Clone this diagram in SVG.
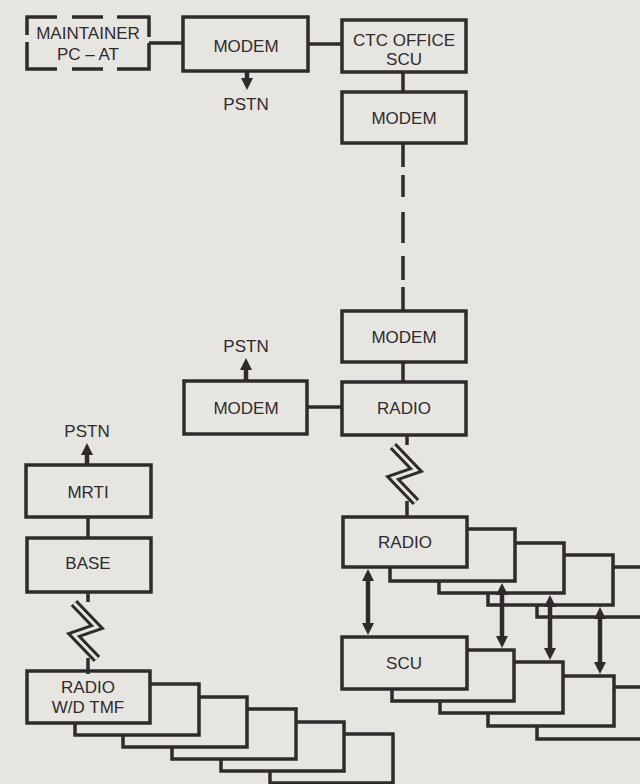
<svg xmlns="http://www.w3.org/2000/svg" width="640" height="784" viewBox="0 0 640 784">
<style>
.bg{fill:#e7e5e1}
.box{fill:#e7e5e1;stroke:#2f2b2b;stroke-width:3.5}
.ln{fill:none;stroke:#2f2b2b;stroke-width:3.5}
.ar{fill:none;stroke:#2f2b2b;stroke-width:4.5}
.t{font-family:"Liberation Sans",Arial,sans-serif;font-size:17px;fill:#2f2b2b;text-anchor:middle}
.bo{fill:none;stroke:#2f2b2b;stroke-width:9;stroke-linejoin:miter;stroke-miterlimit:10}
.bi{fill:none;stroke:#e7e5e1;stroke-width:3;stroke-linejoin:miter;stroke-miterlimit:10}
</style>
<defs>
<marker id="ah" viewBox="0 0 12 12" markerWidth="12" markerHeight="13" refX="6" refY="6" orient="auto-start-reverse" markerUnits="userSpaceOnUse">
<path d="M0,0 L12,6 L0,12 z" fill="#2f2b2b"/>
</marker>
<g id="bolt">
<path class="ln" d="M0,0 V10"/>
<path class="bo" d="M-14,11 L9,35 L-14,43 L9,67"/>
<path class="bi" d="M-14,11 L9,35 L-14,43 L9,67"/>
<path class="ln" d="M0,66 V82"/>
</g>
</defs>
<rect class="bg" x="0" y="0" width="640" height="784"/>

<g id="maintainer">
<path class="ln" d="M27,35 V17 H57 M72,17 H103 M117,17 H149 V37 M149,43 V69 H117 M103,69 H72 M57,69 H27 V42"/>
<text class="t" x="88" y="39">MAINTAINER</text>
<text class="t" x="88" y="60">PC – AT</text>
</g>
<g id="modem1">
<rect class="box" x="183" y="17" width="125" height="54"/>
<text class="t" x="246" y="52">MODEM</text>
</g>
<text class="t" id="pstn1" x="246" y="110">PSTN</text>
<g id="ctc">
<rect class="box" x="342" y="20" width="124" height="52"/>
<text class="t" x="404" y="46">CTC OFFICE</text>
<text class="t" x="404" y="65">SCU</text>
</g>
<g id="modem2">
<rect class="box" x="342" y="92" width="124" height="51"/>
<text class="t" x="404" y="124">MODEM</text>
</g>
<g id="modem3">
<rect class="box" x="342" y="311" width="124" height="51"/>
<text class="t" x="404" y="343">MODEM</text>
</g>
<g id="radio1">
<rect class="box" x="342" y="382" width="124" height="53"/>
<text class="t" x="404" y="414">RADIO</text>
</g>
<g id="modem4">
<rect class="box" x="184" y="381" width="123" height="53"/>
<text class="t" x="246" y="414">MODEM</text>
</g>
<text class="t" id="pstn2" x="246" y="352">PSTN</text>
<text class="t" id="pstn3" x="87" y="437">PSTN</text>
<g id="mrti">
<rect class="box" x="26" y="465" width="125" height="52"/>
<text class="t" x="88" y="498">MRTI</text>
</g>
<g id="base">
<rect class="box" x="27" y="538" width="124" height="54"/>
<text class="t" x="88" y="569">BASE</text>
</g>

<g id="wd-stack">
<rect class="box" x="270" y="734" width="123" height="49"/>
<rect class="box" x="221" y="722" width="123" height="49"/>
<rect class="box" x="172" y="709" width="124" height="50"/>
<rect class="box" x="123" y="697" width="124" height="50"/>
<rect class="box" x="75" y="684" width="124" height="51"/>
<rect class="box" x="27" y="671" width="123" height="52"/>
<text class="t" x="88" y="693">RADIO</text>
<text class="t" x="88" y="713">W/D TMF</text>
</g>

<g id="radio-stack">
<rect class="box" x="537" y="567" width="124" height="50"/>
<rect class="box" x="488" y="555" width="125" height="50"/>
<rect class="box" x="439" y="543" width="125" height="50"/>
<rect class="box" x="390" y="529" width="125" height="52"/>
<rect class="box" x="343" y="517" width="124" height="50"/>
<text class="t" x="405" y="548">RADIO</text>
</g>

<g id="scu-stack">
<rect class="box" x="537" y="687" width="124" height="52"/>
<rect class="box" x="488" y="676" width="126" height="50"/>
<rect class="box" x="440" y="662" width="123" height="51"/>
<rect class="box" x="392" y="650" width="122" height="51"/>
<rect class="box" x="342" y="637" width="125" height="52"/>
<text class="t" x="404" y="669">SCU</text>
</g>

<g id="connectors">
<path class="ln" d="M149,43 H183"/>
<path class="ln" d="M308,44 H342"/>
<path class="ln" d="M403,72 V92"/>
<path class="ln" d="M403,143 V311" stroke-dasharray="24 8 22 15 31 13 24 7 24 10"/>
<path class="ln" d="M403,362 V382"/>
<path class="ln" d="M307,407 H342"/>
<path class="ln" d="M88,517 V538"/>
<path class="ar" d="M247,71 V84" marker-end="url(#ah)"/>
<path class="ar" d="M246,381 V364" marker-end="url(#ah)"/>
<path class="ar" d="M87,465 V449" marker-end="url(#ah)"/>
<path class="ar" d="M368,575 V629" marker-start="url(#ah)" marker-end="url(#ah)"/>
<path class="ar" d="M502,589 V642" marker-start="url(#ah)" marker-end="url(#ah)"/>
<path class="ar" d="M550,601 V654" marker-start="url(#ah)" marker-end="url(#ah)"/>
<path class="ar" d="M600,613 V668" marker-start="url(#ah)" marker-end="url(#ah)"/>
<use href="#bolt" x="407" y="435"/>
<use href="#bolt" x="88" y="592"/>
</g>
</svg>
